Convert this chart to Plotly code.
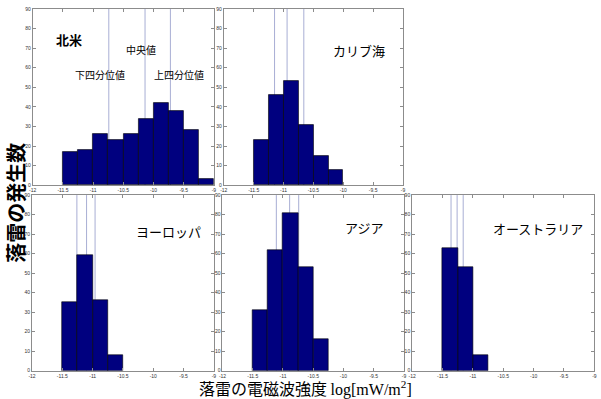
import plotly.graph_objects as go

# ---- data ----
bin_centers = [-11.375, -11.125, -10.875, -10.625, -10.375, -10.125, -9.875, -9.625, -9.375, -9.125]
bin_width = 0.25

regions = ["北米", "カリブ海", "ヨーロッパ", "アジア", "オーストラリア"]
counts_na = [17, 18, 26, 23, 26, 34, 42, 38, 28, 3]
counts_carib = [23, 46, 53, 31, 15, 8]
counts_eu = [35, 59, 36, 8]
counts_asia = [31, 62, 81, 53, 16]
counts_aus = [63, 53, 8]

# lower quartile, median, upper quartile
quart_na = [-10.74, -10.14, -9.72]
quart_carib = [-11.15, -10.94, -10.66]
quart_eu = [-11.26, -11.10, -10.96]
quart_asia = [-11.11, -10.89, -10.74]
quart_aus = [-11.36, -11.26, -11.16]

x_ticks = [-12, -11.5, -11, -10.5, -10, -9.5, -9]
x_ticklabels = ["-12", "-11.5", "-11", "-10.5", "-10", "-9.5", "-9"]
y_ticks = [0, 10, 20, 30, 40, 50, 60, 70, 80, 90]

all_counts = [counts_na, counts_carib, counts_eu, counts_asia, counts_aus]
all_quarts = [quart_na, quart_carib, quart_eu, quart_asia, quart_aus]

W, H = 601, 399
# pixel boxes (left, right, top, bottom)
boxes = [
    (29, 212, 6, 185),
    (222, 403, 6, 185),
    (28.3, 212, 195, 373.3),
    (220.7, 404, 195, 373.3),
    (412.3, 596.3, 195, 373.3),
]
label_pos = [(66, 37), (359, 48), (166, 232), (364, 228), (539, 229)]

fig = go.Figure()
layout = dict(width=W, height=H, margin=dict(l=0, r=0, t=0, b=0),
              paper_bgcolor="white", plot_bgcolor="white", showlegend=False,
              bargap=0, font=dict(family="Noto Sans CJK JP"))
shapes = []
annotations = []

for i, (cnts, qs, box) in enumerate(zip(all_counts, all_quarts, boxes)):
    n = i + 1
    xa = "x" if n == 1 else f"x{n}"
    ya = "y" if n == 1 else f"y{n}"
    fig.add_trace(go.Bar(
        x=bin_centers[:len(cnts)], y=cnts, width=bin_width,
        marker=dict(color="#00007f", line=dict(color="#000000", width=0.6)),
        xaxis=xa, yaxis=ya, hoverinfo="x+y"))
    l, r, t, b = box
    axis_common = dict(showgrid=False, zeroline=False, showline=True, linecolor="#8c8c8c",
                       linewidth=1, mirror="ticks", ticks="inside", ticklen=3,
                       tickcolor="#8c8c8c", tickfont=dict(size=5, color="#333333",
                                                          family="Liberation Sans"))
    layout["xaxis" if n == 1 else f"xaxis{n}"] = dict(
        axis_common, domain=[l / W, r / W], range=[-12, -9], tickvals=x_ticks,
        ticktext=x_ticklabels, anchor=ya)
    layout["yaxis" if n == 1 else f"yaxis{n}"] = dict(
        axis_common, domain=[1 - b / H, 1 - t / H], range=[0, 90], tickvals=y_ticks,
        anchor=xa)
    for q in qs:
        shapes.append(dict(type="line", xref=xa, yref=ya, x0=q, x1=q, y0=0, y1=90,
                           layer="below", line=dict(color="#a8aed4", width=1)))
    px, py = label_pos[i]
    label = f"<b>{regions[i]}</b>" if i == 0 else regions[i]
    annotations.append(dict(text=label, x=px / W, y=1 - py / H, xref="paper",
                            yref="paper", showarrow=False, xanchor="center", yanchor="middle",
                            font=dict(size=13, color="black", family="Noto Sans CJK JP")))

for txt, px, py in [("中央値", 138, 47), ("下四分位値", 97, 73), ("上四分位値", 177, 73)]:
    annotations.append(dict(text=txt, x=px / W, y=1 - py / H, xref="paper", yref="paper",
                            showarrow=False, xanchor="center", yanchor="middle",
                            font=dict(size=10, color="black", family="Noto Sans CJK JP")))

annotations.append(dict(text="<b>落雷の発生数</b>", x=12 / W, y=1 - 203 / H, xref="paper",
                        yref="paper", showarrow=False, textangle=-90,
                        xanchor="center", yanchor="middle",
                        font=dict(size=20, color="black", family="Noto Sans CJK JP")))
annotations.append(dict(
    text="落雷の電磁波強度 <span style='font-family:Liberation Serif'>log[mW/m<sup>2</sup>]</span>",
    x=305 / W, y=1 - 391 / H, xref="paper", yref="paper", showarrow=False,
    xanchor="center", yanchor="middle",
    font=dict(size=16, color="black", family="Noto Sans CJK JP")))

layout["shapes"] = shapes
layout["annotations"] = annotations
fig.update_layout(**layout)
fig.write_html("out.html")
